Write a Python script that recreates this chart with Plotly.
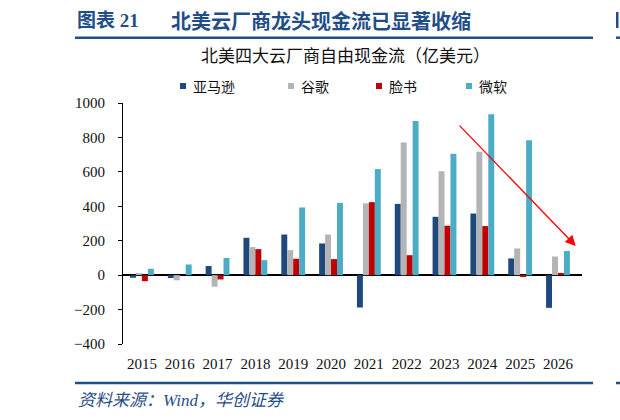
import plotly.graph_objects as go

years = ["2015", "2016", "2017", "2018", "2019", "2020", "2021", "2022", "2023", "2024", "2025", "2026"]
amazon = [-15, -17, 53, 217, 236, 184, -188, 414, 339, 358, 97, -190]
google = [12, -30, -67, 163, 145, 236, 417, 771, 604, 717, 155, 108]
facebook = [-35, 0, -25, 151, 95, 93, 424, 116, 287, 285, -8, 13]
microsoft = [37, 62, 100, 87, 393, 420, 616, 895, 705, 934, 783, 140]

series_names = ["亚马逊", "谷歌", "脸书", "微软"]
series_values = [amazon, google, facebook, microsoft]
series_colors = ["#1F497D", "#B4B4B4", "#C00000", "#4BACC6"]
y_ticks = [-400, -200, 0, 200, 400, 600, 800, 1000]

title_num = "图表 21"
title_text = "北美云厂商龙头现金流已显著收缩"
subtitle = "北美四大云厂商自由现金流（亿美元）"
source = "资料来源：Wind，华创证券"

# pixel -> paper helpers (plot area 123..582 x, 103..344 y)
L, R, T, B = 123, 582, 103, 344
def px(x):
    return (x - L) / (R - L)
def py(y):
    return (B - y) / (B - T)

BLUE = "#1F4E89"
SERIF = "Liberation Serif, Noto Sans CJK SC, serif"
CJK = "Noto Sans CJK SC, sans-serif"

fig = go.Figure()
for name, vals, col in zip(series_names, series_values, series_colors):
    fig.add_trace(go.Bar(x=years, y=vals, name=name, marker=dict(color=col, line=dict(width=0)),
                         showlegend=False))

annotations = []
shapes = []

# titles
annotations.append(dict(x=px(75), y=py(20.5), xref="paper", yref="paper", xanchor="left", yanchor="middle",
                        text="<b>" + title_num + "</b>", showarrow=False,
                        font=dict(family=SERIF, size=19, color=BLUE)))
annotations.append(dict(x=px(169), y=py(20.5), xref="paper", yref="paper", xanchor="left", yanchor="middle",
                        text="<b>" + title_text + "</b>", showarrow=False,
                        font=dict(family=CJK, size=20, color=BLUE)))
shapes.append(dict(type="line", xref="paper", yref="paper", x0=px(75), x1=px(593), y0=py(37.7), y1=py(37.7),
                   line=dict(color=BLUE, width=2.5)))
# neighbouring chart sliver at right edge
shapes.append(dict(type="rect", xref="paper", yref="paper", x0=px(616), x1=px(618.5), y0=py(28), y1=py(12),
                   fillcolor=BLUE, line=dict(width=0)))
shapes.append(dict(type="line", xref="paper", yref="paper", x0=px(616), x1=px(640), y0=py(37.7), y1=py(37.7),
                   line=dict(color=BLUE, width=2.5)))
shapes.append(dict(type="line", xref="paper", yref="paper", x0=px(616), x1=px(640), y0=py(383), y1=py(383),
                   line=dict(color=BLUE, width=2.5)))

annotations.append(dict(x=px(345), y=py(54), xref="paper", yref="paper", xanchor="center", yanchor="middle",
                        text=subtitle, showarrow=False, font=dict(family=CJK, size=17, color="#111111")))

# legend (custom)
legend_x = [180, 288, 376, 466]
for lx, name, col in zip(legend_x, series_names, series_colors):
    shapes.append(dict(type="rect", xref="paper", yref="paper", x0=px(lx), x1=px(lx + 6),
                       y0=py(89), y1=py(83), fillcolor=col, line=dict(width=0)))
    annotations.append(dict(x=px(lx + 11), y=py(86), xref="paper", yref="paper", xanchor="left",
                            yanchor="middle", text=name, showarrow=False,
                            font=dict(family=CJK, size=14, color="#111111")))

# footer
shapes.append(dict(type="line", xref="paper", yref="paper", x0=px(75), x1=px(593), y0=py(383), y1=py(383),
                   line=dict(color=BLUE, width=2.5)))
annotations.append(dict(x=px(76), y=py(400), xref="paper", yref="paper", xanchor="left", yanchor="middle",
                        text="<i>" + source + "</i>", showarrow=False,
                        font=dict(family=SERIF, size=17, color=BLUE)))

# red trend arrow (in data coords: category index, value)
annotations.append(dict(x=11.47, y=170, ax=8.36, ay=877, xref="x", yref="y", axref="x", ayref="y",
                        showarrow=True, arrowhead=2, arrowsize=1.6, arrowwidth=1.3, arrowcolor="#FF0000",
                        text=""))

fig.update_layout(
    width=620, height=420,
    margin=dict(l=L, r=620 - R, t=T, b=420 - B),
    paper_bgcolor="white", plot_bgcolor="white",
    barmode="group", bargap=0.37, bargroupgap=0,
    showlegend=False,
    annotations=annotations, shapes=shapes,
    font=dict(family=SERIF, color="#111111"),
)
fig.update_xaxes(type="category", showgrid=False, showline=False, zeroline=False,
                 ticks="outside", ticklen=6, tickcolor="rgba(0,0,0,0)",
                 tickfont=dict(family=SERIF, size=15, color="#111111"))
fig.update_yaxes(range=[-400, 1000], tickvals=y_ticks, showgrid=False,
                 showline=True, linecolor="#000000", linewidth=1,
                 zeroline=True, zerolinecolor="#000000", zerolinewidth=1.5,
                 ticks="outside", ticklen=4, tickcolor="#000000",
                 ticklabelstandoff=10,
                 tickfont=dict(family=SERIF, size=15, color="#111111"))

fig.write_html("out.html")
